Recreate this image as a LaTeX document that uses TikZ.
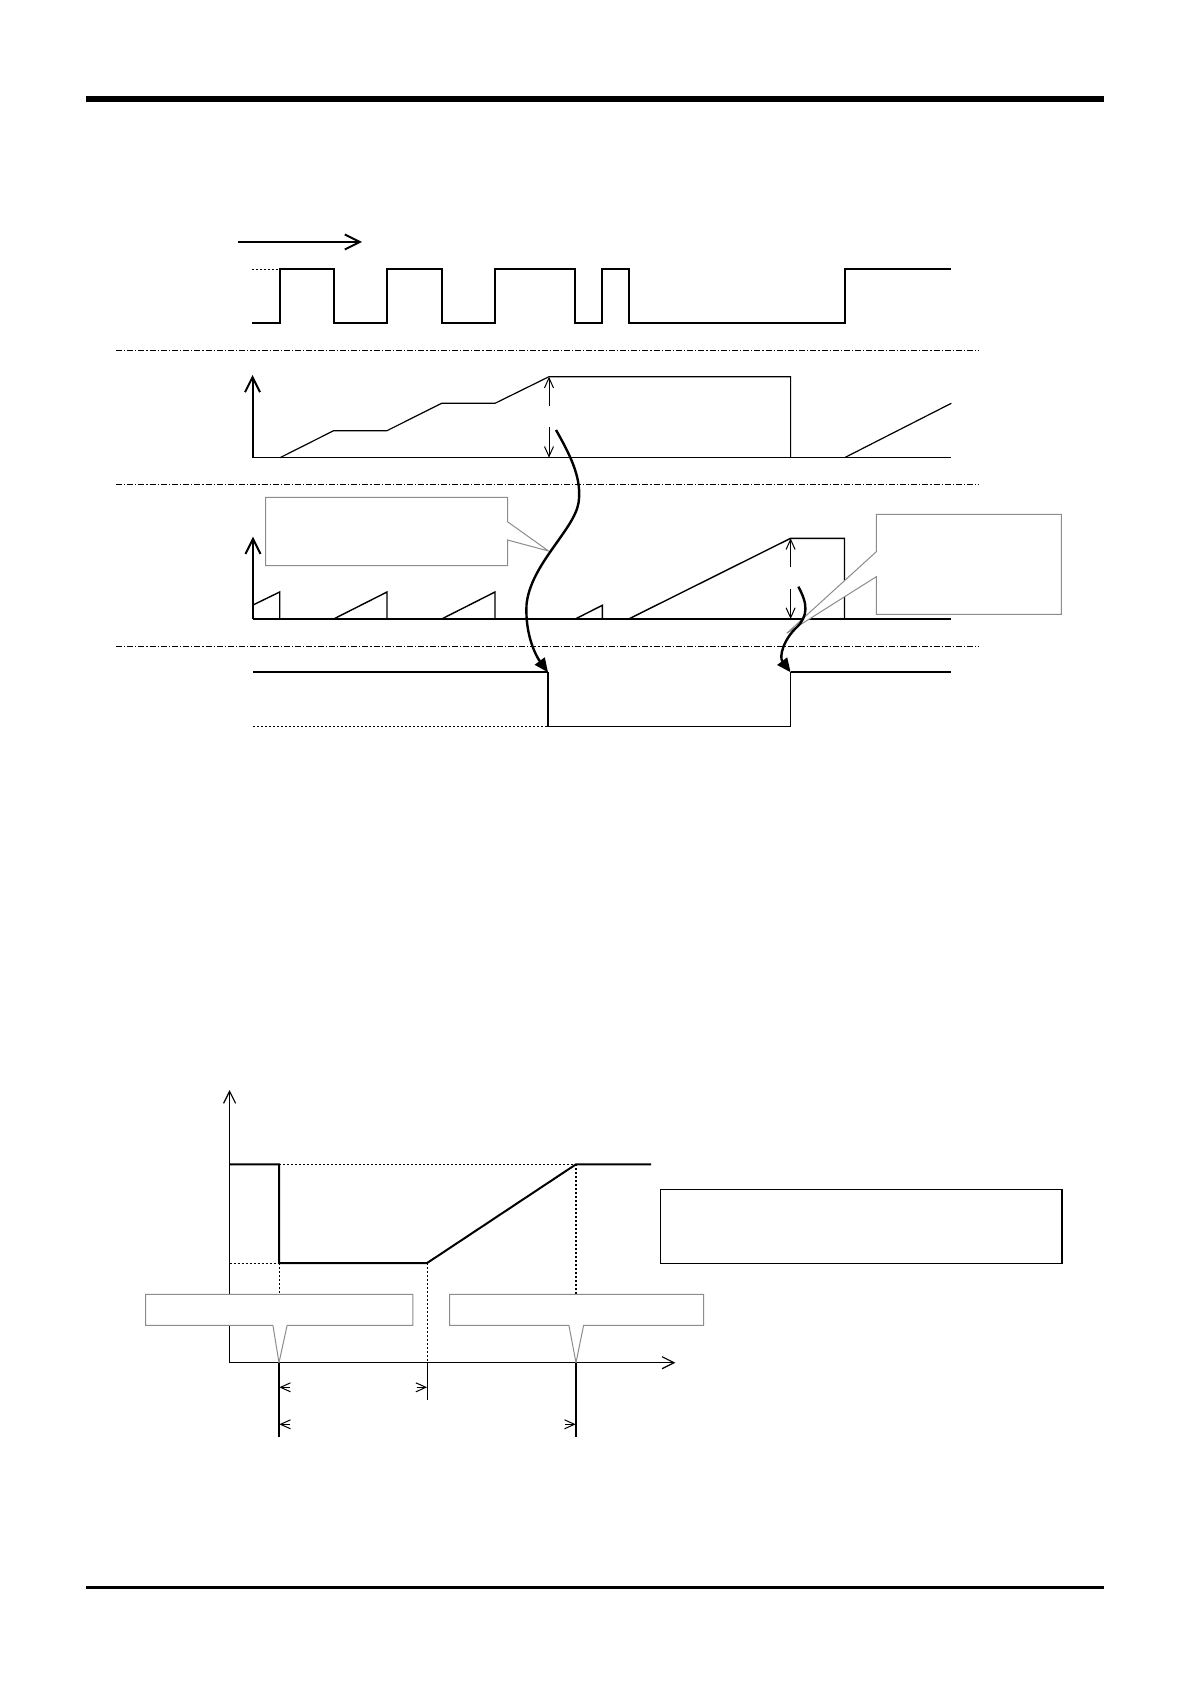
\documentclass[tikz,border=0pt]{standalone}
\usetikzlibrary{arrows.meta}
\definecolor{callgray}{RGB}{140,140,140}
\tikzset{
  sep/.style={line width=0.4pt, dash pattern=on 3pt off 1pt on 0.6pt off 1pt},
  sig/.style={line width=1pt},
  thinsig/.style={line width=0.6pt},
  axisln/.style={line width=1pt, -{Straight Barb[length=7.5pt,width=7.5pt]}},
  axisthin/.style={line width=0.6pt, -{Straight Barb[length=6pt,width=6pt]}},
  dimtip/.style={line width=0.5pt, -{Straight Barb[length=5pt,width=4.5pt]}},
  dotln/.style={line width=0.5pt, dash pattern=on 1pt off 1pt},
  callout/.style={draw=callgray, line width=0.5pt, fill=white},
  bigcurve/.style={line width=1.2pt, -{Triangle[length=7pt,width=6pt]}},
}
\begin{document}
\begin{tikzpicture}[x=0.5pt,y=-0.5pt]
\useasboundingbox[fill=white] (0,0) rectangle (1190,1684);

% page rules
\draw[line width=3pt] (86,99) -- (1104,99);
\draw[line width=1.3pt] (86,1587.5) -- (1104,1587.5);

% ---------- top timing chart ----------
\coordinate (arrA) at (238,242);
\coordinate (arrB) at (362,242);
\draw[axisln] (arrA) -- (arrB);

% square wave
\draw[dotln, line width=0.4pt] (252,269) -- (280,269);
\draw[sig] (252,322.7) -- (280,322.7) -- (280,269) -- (333.6,269) -- (333.6,322.7)
  -- (387,322.7) -- (387,269) -- (441.6,269) -- (441.6,322.7)
  -- (495,322.7) -- (495,269) -- (575.3,269) -- (575.3,322.7)
  -- (602.3,322.7) -- (602.3,269) -- (628.7,269) -- (628.7,322.7)
  -- (844.5,322.7) -- (844.5,269) -- (951.3,269);

\draw[sep] (116,350) -- (979,350);
\draw[sep] (116,484.3) -- (979,484.3);
\draw[sep] (116,646) -- (979,646);

% graph 2 (counter)
\draw[axisln] (252.5,457.7) -- (252.5,375);
\draw[thinsig] (252.5,457.7) -- (951.3,457.7);
\draw[thinsig] (280,457.7) -- (333.6,430.7) -- (387,430.7) -- (441.6,403.3) -- (495,403.3)
  -- (549,376.7) -- (790.6,376.7) -- (790.6,457.7);
\draw[thinsig] (844.5,457.7) -- (951.3,403.3);
\draw[dimtip] (549,405.7) -- (549,376.7);
\draw[dimtip] (549,426.7) -- (549,457.7);

% graph 3 (sawtooth)
\draw[axisln] (253,619) -- (253,536.7);
\draw[thinsig] (253,619) -- (951.3,619);
\draw[line width=0.7pt] (253,605) -- (279.7,592) -- (279.7,619);
\draw[line width=0.7pt] (333.6,619) -- (387,592) -- (387,619);
\draw[line width=0.7pt] (441.6,619) -- (495,592) -- (495,619);
\draw[line width=0.7pt] (575.3,619) -- (602.3,605.3) -- (602.3,619);
\draw[line width=0.7pt] (628.7,619) -- (790.6,538.3) -- (844.5,538.3) -- (844.5,619);
\draw[line width=1.2pt] (279.7,619) -- (333.6,619);
\draw[line width=1.2pt] (387,619) -- (441.6,619);
\draw[line width=0.9pt] (495,619) -- (575.3,619);
\draw[line width=1.2pt] (602.3,619) -- (628.7,619);
\draw[line width=1.2pt] (844.5,619) -- (951.3,619);
\draw[dimtip] (790.6,566.7) -- (790.6,538.3);
\draw[dimtip] (790.6,589.3) -- (790.6,619);

% callouts of graph 3
\draw[callout] (265.6,497.3) -- (507.5,497.3) -- (507.5,521.7) -- (548.5,551)
  -- (507.5,540) -- (507.5,565.7) -- (265.6,565.7) -- cycle;
\draw[callout] (876.3,514.3) -- (1061.3,514.3) -- (1061.3,614.3) -- (876.3,614.3)
  -- (876.3,576.7) -- (786.7,633.3) -- (876.3,551.7) -- cycle;

% graph 4 (output)
\draw[line width=1.1pt] (253,672.3) -- (548,672.3);
\draw[line width=1.1pt] (790.6,672.3) -- (951.3,672.3);
\draw[line width=0.6pt] (548,672.3) -- (548,726.3) -- (790.6,726.3) -- (790.6,672.3);
\draw[dotln, line width=0.4pt] (253,726.3) -- (548,726.3);

% curved arrows
\coordinate (c1s) at (556,430);
\coordinate (c1e) at (548,672.3);
\draw[bigcurve] (c1s) .. controls (572,458) and (582,480) .. (578.5,503)
  .. controls (574,530) and (530,565) .. (526.5,605)
  .. controls (525,635) and (536,656) .. (c1e);
\coordinate (c2s) at (798.3,586.7);
\coordinate (c2e) at (790.6,672.3);
\draw[bigcurve] (c2s) .. controls (808,604) and (808,616) .. (797,627)
  .. controls (783,640) and (779,657) .. (c2e);

% ---------- bottom chart ----------
\draw[dotln] (279,1164.3) -- (576,1164.3);
\draw[dotln] (229.6,1263) -- (279,1263);
\draw[dotln] (279,1263) -- (279,1294.3);
\draw[dotln] (427.1,1263) -- (427.1,1362.7);
\draw[dotln, line width=0.8pt] (576,1164.3) -- (576,1294.3);

\draw[axisthin] (229.6,1362.7) -- (229.6,1090);
\draw[axisthin] (229.6,1362.7) -- (675.4,1362.7);

\draw[sig] (229.6,1164.3) -- (279,1164.3) -- (279,1263) -- (427.1,1263)
  -- (576,1164.3) -- (651,1164.3);

\draw[callout] (145.7,1294.3) -- (412.9,1294.3) -- (412.9,1325.3) -- (287.1,1325.3)
  -- (279,1362.7) -- (272.9,1325.3) -- (145.7,1325.3) -- cycle;
\draw[callout] (449.6,1294.3) -- (703.5,1294.3) -- (703.5,1325.3) -- (583.6,1325.3)
  -- (576,1362.7) -- (568.9,1325.3) -- (449.6,1325.3) -- cycle;

\draw[line width=0.6pt] (279,1362.7) -- (279,1437.3);
\draw[line width=0.6pt] (427.1,1362.7) -- (427.1,1400);
\draw[line width=1.2pt] (576,1362.7) -- (576,1437.3);

\draw[dimtip] (290,1387.3) -- (279.3,1387.3);
\draw[dimtip] (416.5,1387.3) -- (427.1,1387.3);
\draw[dimtip] (290,1424.3) -- (279.3,1424.3);
\draw[dimtip] (565,1424.3) -- (575.7,1424.3);

\draw[line width=0.8pt] (660.3,1189.3) rectangle (1061.7,1263.3);
\end{tikzpicture}
\end{document}
